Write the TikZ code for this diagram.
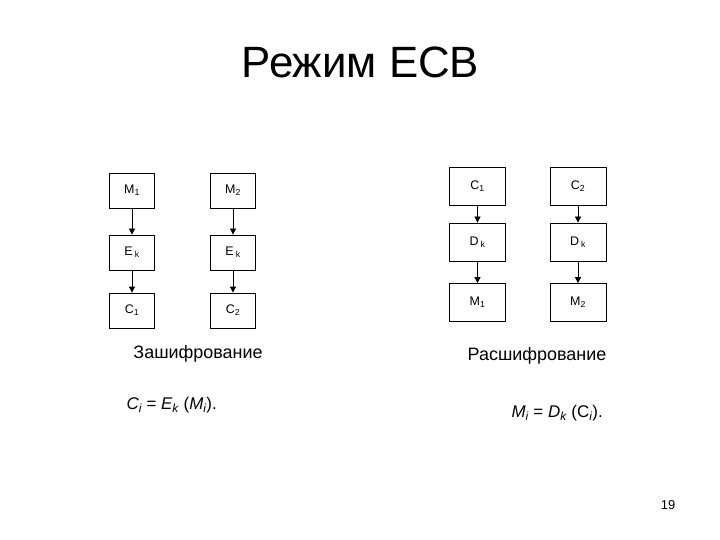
\documentclass[tikz,border=0pt]{standalone}
\usepackage{fontspec}
\setmainfont{Liberation Sans}
\usetikzlibrary{arrows.meta}
\tikzset{
  blk/.style={draw, line width=0.8bp, minimum width=45bp, minimum height=35bp, inner sep=0pt, font=\fontsize{12.5}{14}\selectfont},
  rblk/.style={blk, minimum width=56bp, minimum height=38bp},
  conn/.style={line width=0.8bp, -{Triangle[length=6bp,width=6bp]}},
  captxt/.style={font=\fontsize{18}{22}\selectfont},
  frm/.style={font=\fontsize{17}{20}\selectfont\itshape},
}
\begin{document}
\begin{tikzpicture}[x=1bp,y=-1bp]
\useasboundingbox[fill=white] (0,0) rectangle (720,540);
\node[font=\fontsize{44}{50}\selectfont] (title) at (360.5,62) {Режим ECB};
% encryption
\node[blk] (m1) at (132,190.5) {M\textsubscript{1}};
\node[blk] (e1) at (132,252.5) {E\,\textsubscript{k}};
\node[blk] (c1) at (132,310.5) {C\textsubscript{1}};
\node[blk] (m2) at (233,190.5) {M\textsubscript{2}};
\node[blk] (e2) at (233,252.5) {E\,\textsubscript{k}};
\node[blk] (c2) at (233,310.5) {C\textsubscript{2}};
\draw[conn] (m1) -- (e1);
\draw[conn] (e1) -- (c1);
\draw[conn] (m2) -- (e2);
\draw[conn] (e2) -- (c2);
% decryption
\node[rblk] (dc1) at (477.5,186.5) {C\textsubscript{1}};
\node[rblk] (d1) at (477.5,242) {D\,\textsubscript{k}};
\node[rblk] (dm1) at (477.5,302.5) {M\textsubscript{1}};
\node[rblk] (dc2) at (578,186.5) {C\textsubscript{2}};
\node[rblk] (d2) at (578,242) {D\,\textsubscript{k}};
\node[rblk] (dm2) at (578,302.5) {M\textsubscript{2}};
\draw[conn] (dc1) -- (d1);
\draw[conn] (d1) -- (dm1);
\draw[conn] (dc2) -- (d2);
\draw[conn] (d2) -- (dm2);
% captions
\node[captxt] (enc) at (198,354) {Зашифрование};
\node[captxt] (dec) at (537,356) {Расшифрование};
\node[frm, anchor=west] (fe) at (123,405) {C\textsubscript{i} \textup{=} E\textsubscript{k} \textup{(}M\textsubscript{i}\textup{).}};
\node[frm, anchor=west] (fd) at (508,413) {M\textsubscript{i} \textup{=} D\textsubscript{k} \textup{(C}\textsubscript{i}\textup{).}};
\node[font=\fontsize{13}{15}\selectfont] (pg) at (668,505) {19};
\end{tikzpicture}
\end{document}
